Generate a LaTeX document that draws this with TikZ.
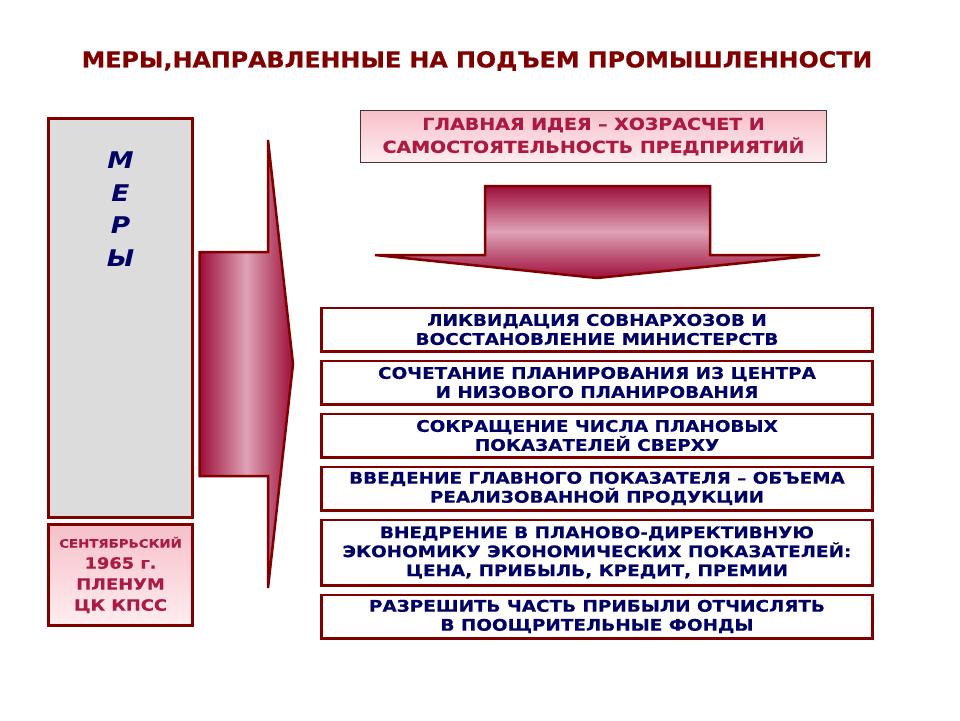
\documentclass[tikz,border=0pt]{standalone}
\usepackage{fontspec}
\setmainfont{DejaVu Sans}
\newfontfamily\titlefont[FakeStretch=1.08, BoldFeatures={FakeBold=0.6}]{DejaVu Sans}
\newfontfamily\boxfont[FakeStretch=1.15, BoldFeatures={FakeBold=0.4}]{DejaVu Sans}
\usepackage{tikz}
\usetikzlibrary{positioning}
\definecolor{maroon}{RGB}{128,0,0}
\definecolor{navyblue}{RGB}{0,0,102}
\definecolor{crimsontext}{RGB}{172,26,66}
\definecolor{panelgray}{RGB}{220,220,220}
\definecolor{arrowdark}{RGB}{158,14,58}
\definecolor{arrowlight}{RGB}{222,162,182}
\definecolor{pinktop}{RGB}{246,192,200}
\definecolor{pinkbottom}{RGB}{254,238,240}
\definecolor{idealine}{RGB}{72,52,52}
\tikzset{
    measure-box/.style = {draw=maroon, fill=white, line width=2.5pt, rectangle, inner sep=0pt, minimum width=551pt, minimum height=43.5pt, align=center, text=navyblue, font=\boxfont\bfseries\fontsize{16}{19}\selectfont},
    pink-box/.style = {top color=pinktop, bottom color=pinkbottom, rectangle, inner sep=0pt, align=center, text=crimsontext},
    arrow-shape/.style = {draw=maroon, line width=2.5pt, line join=miter},
}

\begin{document}
\begin{tikzpicture}[x=1pt, y=-1pt]
\useasboundingbox (0,0) rectangle (960,720);
% title
\node[text=maroon, font=\titlefont\bfseries\fontsize{22}{26}\selectfont] (title) at (477,61) {МЕРЫ,НАПРАВЛЕННЫЕ НА ПОДЪЕМ ПРОМЫШЛЕННОСТИ};

% left column
\node[draw=maroon, fill=panelgray, line width=2.5pt, minimum width=144pt, minimum height=399pt, inner sep=0pt] (measures) at (120.5,318) {};
\node[text=navyblue, align=center, font=\boxfont\bfseries\itshape\fontsize{23}{32.5}\selectfont] (measures-label) at (120.5,209) {М\\Е\\Р\\Ы};
\node[pink-box, draw=maroon, line width=2.5pt, minimum width=144pt, minimum height=101pt, font=\boxfont\bfseries\fontsize{15.5}{21}\selectfont] (plenum) at (120.5,575) {{\fontsize{11.6}{21}\selectfont СЕНТЯБРЬСКИЙ}\\1965 г.\\ПЛЕНУМ\\ЦК КПСС};

% big arrow to the right
\draw[arrow-shape, left color=arrowdark, right color=arrowdark, middle color=arrowlight]
    (199.5,252) -- (268,252) -- (268,140) -- (293,364) -- (268,588) -- (268,476) -- (199.5,476) -- cycle;

% main idea
\node[pink-box, draw=idealine, line width=1.2pt, minimum width=466pt, minimum height=52pt, font=\boxfont\bfseries\fontsize{16.5}{23}\selectfont] (idea) at (593.5,136.5) {ГЛАВНАЯ ИДЕЯ – ХОЗРАСЧЕТ И\\САМОСТОЯТЕЛЬНОСТЬ ПРЕДПРИЯТИЙ};

% arrow down
\draw[arrow-shape, top color=arrowdark, bottom color=arrowdark, middle color=arrowlight]
    (485,186) -- (710,186) -- (710,255) -- (820,255) -- (597,278) -- (375,255) -- (485,255) -- cycle;

% list of measures
\node[measure-box] (m1) at (597,329.5) {ЛИКВИДАЦИЯ СОВНАРХОЗОВ И\\ВОССТАНОВЛЕНИЕ МИНИСТЕРСТВ};
\node[measure-box, below=7pt of m1] (m2) {СОЧЕТАНИЕ ПЛАНИРОВАНИЯ ИЗ ЦЕНТРА\\И НИЗОВОГО ПЛАНИРОВАНИЯ};
\node[measure-box, below=7pt of m2] (m3) {СОКРАЩЕНИЕ ЧИСЛА ПЛАНОВЫХ\\ПОКАЗАТЕЛЕЙ СВЕРХУ};
\node[measure-box, below=7pt of m3] (m4) {ВВЕДЕНИЕ ГЛАВНОГО ПОКАЗАТЕЛЯ – ОБЪЕМА\\РЕАЛИЗОВАННОЙ ПРОДУКЦИИ};
\node[measure-box, below=7pt of m4, minimum height=65.5pt] (m5) {ВНЕДРЕНИЕ В ПЛАНОВО-ДИРЕКТИВНУЮ\\ЭКОНОМИКУ ЭКОНОМИЧЕСКИХ ПОКАЗАТЕЛЕЙ:\\ЦЕНА, ПРИБЫЛЬ, КРЕДИТ, ПРЕМИИ};
\node[measure-box, below=7pt of m5] (m6) {РАЗРЕШИТЬ ЧАСТЬ ПРИБЫЛИ ОТЧИСЛЯТЬ\\В ПООЩРИТЕЛЬНЫЕ ФОНДЫ};
\end{tikzpicture}
\end{document}
